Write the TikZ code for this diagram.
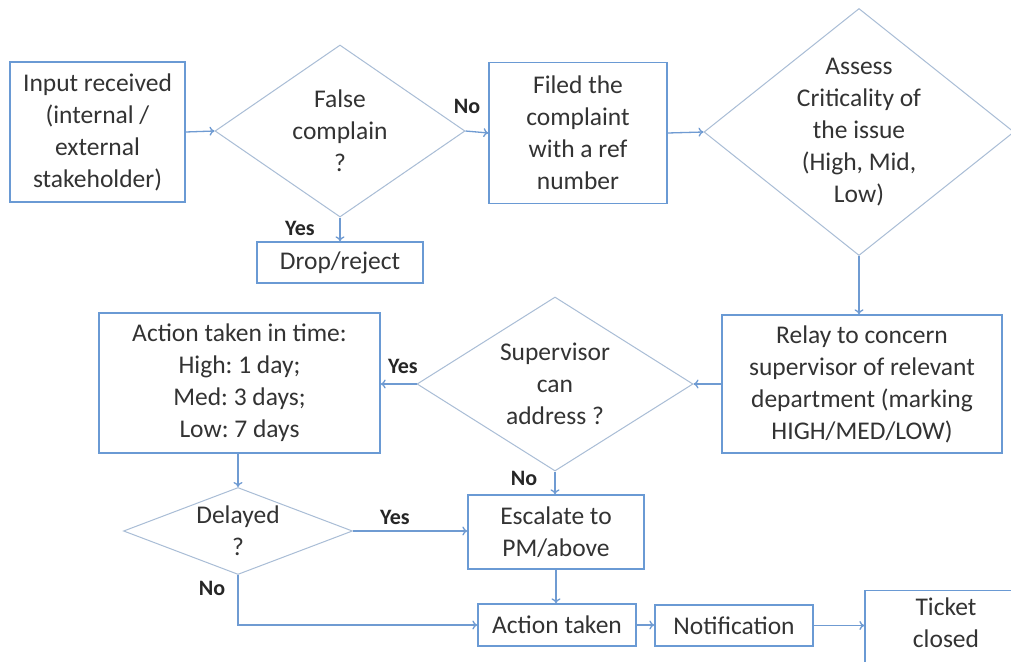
\documentclass[tikz,border=0pt]{standalone}
\usepackage{fontspec}
\setmainfont{Carlito}
\usetikzlibrary{shapes.geometric,arrows.meta}
\definecolor{boxblue}{HTML}{6A9AD4}
\definecolor{diablue}{HTML}{A9BDD6}
\definecolor{arrowblue}{HTML}{6F9BD2}
\definecolor{txt}{HTML}{333333}
\frenchspacing
\begin{document}
\begin{tikzpicture}[x=1pt,y=-1pt,
  font=\fontsize{25.5}{32}\selectfont, text=txt,
  box/.style={draw=boxblue, line width=1.3pt, inner sep=0pt, align=center},
  dia/.style={diamond, draw=diablue, line width=1pt, inner sep=0pt},
  arr/.style={draw=arrowblue, line width=1.3pt, -{To[length=5pt,width=9pt]}},
  lab/.style={font=\bfseries\fontsize{22}{26}\selectfont, text=black!85}]
\useasboundingbox (0,0) rectangle (1011,661);
\clip (0,0) rectangle (1011,661);
\fill[white] (0,0) rectangle (1011,661);

% boxes
\node[box, minimum width=175pt, minimum height=140pt] (input) at (97.5,132) {Input received\\(internal /\\external\\stakeholder)};
\node[box, minimum width=166pt, minimum height=41pt] (drop) at (340,262.5) {Drop/reject};
\node[box, minimum width=178pt, minimum height=141pt] (filed) at (578,133) {Filed the\\complaint\\with a ref\\number};
\node[box, minimum width=280pt, minimum height=138pt] (relay) at (862,384) {Relay to concern\\supervisor of relevant\\department (marking\\HIGH/MED/LOW)};
\node[box, minimum width=281pt, minimum height=140pt] (actime) at (239.5,383) {Action taken in time:\\High: 1 day;\\Med: 3 days;\\Low: 7 days};
\node[box, minimum width=176pt, minimum height=74pt] (esc) at (556,532) {Escalate to\\PM/above};
\node[box, minimum width=158pt, minimum height=42pt] (acttaken) at (557,625) {Action taken};
\node[box, minimum width=158pt, minimum height=41pt] (notif) at (734,625.5) {Notification};
\node[box, minimum width=162pt, minimum height=100pt, anchor=north] (ticket) at (946,590) {};
\node[align=center, anchor=north] (tickettext) at (946,594) {Ticket\\closed};

% diamonds
\node[dia, minimum width=250pt, minimum height=172pt, label={[align=center]center:False\\complain\\?}] (d1) at (340,131) {};
\node[dia, minimum width=310pt, minimum height=247pt, label={[align=center]center:Assess\\Criticality of\\the issue\\(High, Mid,\\Low)}] (d2) at (859,132) {};
\node[dia, minimum width=276pt, minimum height=174pt, label={[align=center]center:Supervisor\\can\\address ?}] (d3) at (555,384) {};
\node[dia, minimum width=229pt, minimum height=87pt, label={[align=center]center:Delayed\\?}] (d4) at (238,531) {};

% connectors
\draw[arr] (input.east) -- (d1.west);
\draw[arr] (d1.east) -- (filed.west);
\draw[arr] (d1.south) -- (drop.north);
\draw[arr] (filed.east) -- (d2.west);
\draw[arr] (d2.south) -- (d2.south |- relay.north);
\draw[arr] (relay.west) -- (d3.east);
\draw[arr] (d3.west) -- (d3.west -| actime.east);
\draw[arr] (d3.south) -- (d3.south |- esc.north);
\draw[arr] (d4.north |- actime.south) -- (d4.north);
\draw[arr] (d4.east) -- (d4.east -| esc.west);
\draw[arr] (d4.south) |- (acttaken.west);
\draw[arr] (esc.south) -- (esc.south |- acttaken.north);
\draw[arr] (acttaken.east) -- (acttaken.east -| notif.west);
\draw[arr] (notif.east) -- (notif.east -| ticket.west);

% labels
\node[lab] (l1) at (467,106) {No};
\node[lab] (l2) at (300,228) {Yes};
\node[lab] (l3) at (403,366) {Yes};
\node[lab] (l4) at (524,478) {No};
\node[lab] (l5) at (395,517) {Yes};
\node[lab] (l6) at (212,588) {No};
\end{tikzpicture}
\end{document}
